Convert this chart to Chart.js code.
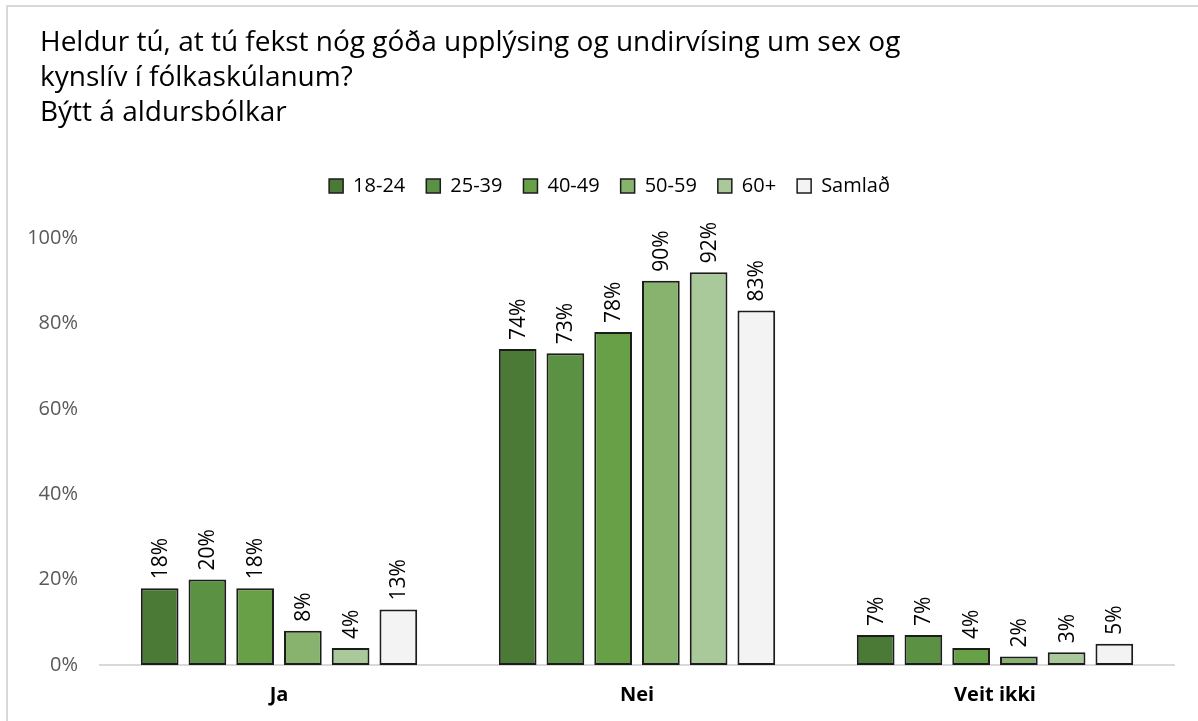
<!DOCTYPE html>
<html>
<head>
<meta charset="utf-8">
<script src="https://cdn.jsdelivr.net/npm/chart.js@4"></script>
<style>
  html, body { margin: 0; padding: 0; background: #fff; overflow: hidden; }
  #frame { position: absolute; left: 6px; top: 5px; width: 1300px; height: 800px; border: 2px solid #d9d9d9; }
  #wrap { position: absolute; left: 0; top: 0; width: 1198px; height: 721px; }
</style>
</head>
<body>
<div id="frame"></div>
<div id="wrap"><canvas id="ageChart"></canvas></div>
<script>
// Data
const categories = ['Ja', 'Nei', 'Veit ikki'];
const groups = ['18-24', '25-39', '40-49', '50-59', '60+', 'Samlað'];
const age18_24 = [18, 74, 7];
const age25_39 = [20, 73, 7];
const age40_49 = [18, 78, 4];
const age50_59 = [8, 90, 2];
const age60plus = [4, 92, 3];
const total = [13, 83, 5];
const yTicks = [0, 20, 40, 60, 80, 100];

const seriesValues = [age18_24, age25_39, age40_49, age50_59, age60plus, total];
const colors = ['#4a7a36', '#5a9142', '#68a048', '#88b36e', '#a9c99b', '#f2f3f2'];

const titleLines = [
    'Heldur tú, at tú fekst nóg góða upplýsing og undirvísing um sex og',
    'kynslív í fólkaskúlanum?',
    'Býtt á aldursbólkar'
];

const FONT = "'Open Sans', sans-serif";

// rotated value labels above each bar
const barLabels = {
    id: 'barLabels',
    afterDatasetsDraw(chart) {
        const ctx = chart.ctx;
        ctx.save();
        ctx.font = '21px ' + FONT;
        ctx.fillStyle = '#000';
        ctx.textAlign = 'left';
        ctx.textBaseline = 'middle';
        chart.data.datasets.forEach((ds, i) => {
            chart.getDatasetMeta(i).data.forEach((bar, j) => {
                ctx.save();
                ctx.translate(bar.x, bar.y - 9);
                ctx.rotate(-Math.PI / 2);
                ctx.fillText(ds.data[j] + '%', 0, 1);
                ctx.restore();
            });
        });
        ctx.restore();
    }
};

// plain left-aligned title block
const titleBlock = {
    id: 'titleBlock',
    afterDraw(chart) {
        const ctx = chart.ctx;
        ctx.save();
        ctx.font = '28px ' + FONT;
        ctx.fillStyle = '#000';
        ctx.textBaseline = 'alphabetic';
        titleLines.forEach((t, i) => ctx.fillText(t, 40, 51 + i * 35));
        ctx.restore();
    }
};

// extra gap under the legend, and nudge it right like the original
const legendTweak = {
    id: 'legendTweak',
    beforeInit(chart) {
        const fit = chart.legend.fit;
        chart.legend.fit = function () {
            fit.bind(chart.legend)();
            this.height += 32;
        };
    },
    afterLayout(chart) {
        chart.legend.left += 20;
        chart.legend.right += 20;
    }
};

function initAgeChart() {
    const el = document.getElementById('ageChart');
    new Chart(el.getContext('2d'), {
        type: 'bar',
        data: {
            labels: categories,
            datasets: groups.map((g, i) => ({
                label: g,
                data: seriesValues[i],
                backgroundColor: colors[i],
                borderColor: '#1c1c1c',
                borderWidth: 2,
                borderSkipped: false,
                categoryPercentage: 0.8,
                barPercentage: 0.79
            }))
        },
        options: {
            responsive: true,
            maintainAspectRatio: false,
            animation: false,
            layout: { padding: { top: 155, right: 24, bottom: 4, left: 5 } },
            plugins: {
                legend: {
                    position: 'top',
                    labels: {
                        boxWidth: 14,
                        boxHeight: 14,
                        padding: 21,
                        color: '#000',
                        font: { family: FONT, size: 20 },
                        generateLabels: chart => chart.data.datasets.map((ds, i) => ({
                            text: ds.label,
                            fillStyle: ds.backgroundColor,
                            strokeStyle: '#1c1c1c',
                            lineWidth: 1.5,
                            datasetIndex: i
                        }))
                    }
                },
                tooltip: { enabled: false }
            },
            scales: {
                x: {
                    grid: { display: false },
                    border: { color: '#d9d9d9', width: 2 },
                    ticks: { color: '#000', font: { family: FONT, size: 20, weight: 'bold' }, padding: 10 }
                },
                y: {
                    min: 0,
                    max: 100,
                    afterBuildTicks: axis => { axis.ticks = yTicks.map(v => ({ value: v })); },
                    afterFit: axis => { axis.width = 95; },
                    grid: { display: false },
                    border: { display: false },
                    ticks: { color: '#595959', font: { family: FONT, size: 20 }, padding: 14, callback: v => v + '%' }
                }
            }
        },
        plugins: [barLabels, titleBlock, legendTweak]
    });
}

document.addEventListener('DOMContentLoaded', initAgeChart);
</script>
</body>
</html>
